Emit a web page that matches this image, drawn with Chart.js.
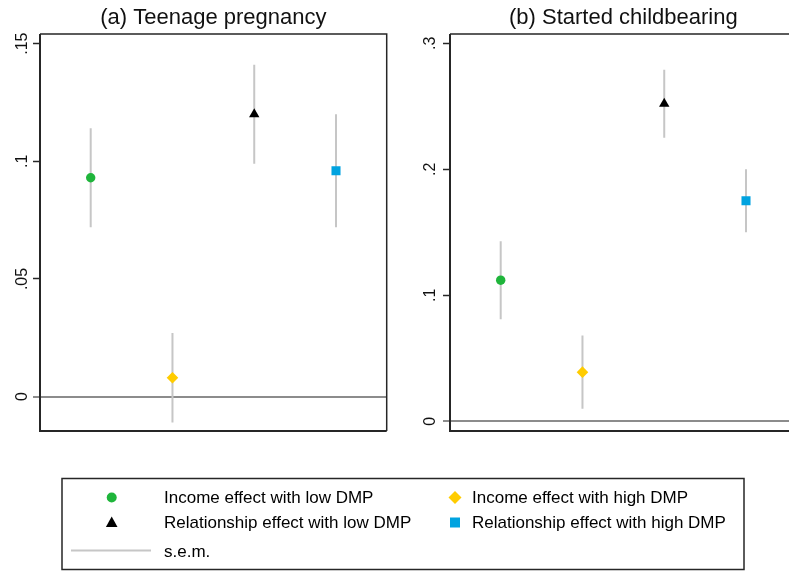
<!DOCTYPE html>
<html>
<head>
<meta charset="utf-8">
<script src="https://cdn.jsdelivr.net/npm/chart.js@4/dist/chart.umd.min.js"></script>
<style>
  html, body { margin: 0; padding: 0; background: #fff; overflow: hidden; width: 789px; height: 572px; }
  #wrap { position: relative; width: 789px; height: 572px; overflow: hidden; }
  canvas { position: absolute; top: 0; }
  #teen { left: 0; }
  #child { left: 400px; }
  #legend { position: absolute; left: 0; top: 0; }
</style>
</head>
<body>
<div id="wrap">
  <canvas id="teen" width="400" height="445"></canvas>
  <canvas id="child" width="410" height="445"></canvas>
  <svg id="legend" width="789" height="572" xmlns="http://www.w3.org/2000/svg"></svg>
</div>
<script>
// Effect categories, in plotting order (x = 1..4)
const categories = [
  'Income effect with low DMP',
  'Income effect with high DMP',
  'Relationship effect with low DMP',
  'Relationship effect with high DMP'
];
const markerStyles = ['circle', 'rectRot', 'triangle', 'rect'];
const markerColors = ['#1fb53b', '#ffcc00', '#000000', '#00a3e0'];
const markerRadius = [4.7, 5.8, 6, 6.4];

// (a) Teenage pregnancy: point estimates and standard errors
const teenEstimate = [0.093, 0.008, 0.120, 0.096];
const teenSem      = [0.021, 0.019, 0.021, 0.024];
const teenTicks      = [0, 0.05, 0.10, 0.15];
const teenTickLabels = ['0', '.05', '.1', '.15'];

// (b) Started childbearing: point estimates and standard errors
const childEstimate = [0.112, 0.039, 0.252, 0.175];
const childSem      = [0.031, 0.029, 0.027, 0.025];
const childTicks      = [0, 0.1, 0.2, 0.3];
const childTickLabels = ['0', '.1', '.2', '.3'];

const semLabel = 's.e.m.';
const FONT = "'Liberation Sans', Arial, Helvetica, sans-serif";
const SEM_COLOR = '#c6c6c6';
const FRAME_COLOR = '#262626';

// Box around the plot region
const framePlugin = {
  id: 'frame',
  afterDraw(chart) {
    const { ctx, chartArea: a } = chart;
    ctx.save();
    ctx.strokeStyle = FRAME_COLOR;
    ctx.lineWidth = 1.5;
    ctx.beginPath();
    ctx.moveTo(a.left, a.top); ctx.lineTo(a.right, a.top); ctx.lineTo(a.right, a.bottom);
    ctx.stroke();
    ctx.lineWidth = 2;
    ctx.beginPath();
    ctx.moveTo(a.left, a.top); ctx.lineTo(a.left, a.bottom); ctx.lineTo(a.right, a.bottom);
    ctx.stroke();
    ctx.restore();
  }
};

function buildPanel(canvasId, title, est, sem, ticks, tickLabels, yMin, yMax, yWidth, labelPad) {
  const semSets = est.map((v, i) => ({
    type: 'scatter',
    showLine: true,
    data: [{ x: i + 1, y: v - sem[i] }, { x: i + 1, y: v + sem[i] }],
    borderColor: SEM_COLOR,
    borderWidth: 2,
    pointRadius: 0,
    order: 2
  }));
  const pointSet = {
    type: 'scatter',
    data: est.map((v, i) => ({ x: i + 1, y: v })),
    pointStyle: markerStyles,
    pointRadius: markerRadius,
    backgroundColor: markerColors,
    borderColor: markerColors,
    borderWidth: 0,
    order: 1
  };
  return new Chart(document.getElementById(canvasId), {
    type: 'scatter',
    data: { datasets: [pointSet, ...semSets] },
    options: {
      responsive: false,
      animation: false,
      devicePixelRatio: 1,
      layout: { padding: { left: 0, right: 13.3, top: 0, bottom: 14 } },
      plugins: {
        legend: { display: false },
        tooltip: { enabled: false },
        title: {
          display: true,
          text: title,
          fullSize: false,
          color: '#111',
          font: { family: FONT, size: 22, weight: 'normal', lineHeight: 1.2 },
          padding: { top: 4.3, bottom: 3.3 }
        }
      },
      scales: {
        x: { type: 'linear', min: 0.38, max: 4.62, display: false },
        y: {
          type: 'linear',
          min: yMin,
          max: yMax,
          bounds: 'data',
          afterBuildTicks: s => { s.ticks = ticks.map(v => ({ value: v })); },
          afterFit: s => { s.width = yWidth; s.paddingTop = 0; s.paddingBottom = 0; },
          border: { display: false },
          grid: {
            drawOnChartArea: true,
            drawTicks: true,
            tickLength: 7,
            color: c => (c.tick && c.tick.value === 0) ? '#8c8c8c' : 'rgba(0,0,0,0)',
            lineWidth: c => (c.tick && c.tick.value === 0) ? 2 : 1,
            tickColor: c => (c.tick && c.tick.value === 0) ? '#8c8c8c' : FRAME_COLOR,
            tickWidth: c => (c.tick && c.tick.value === 0) ? 2 : 1.5
          },
          ticks: {
            minRotation: 90,
            maxRotation: 90,
            crossAlign: 'center',
            padding: labelPad,
            color: '#111',
            font: { family: FONT, size: 16 },
            callback: v => tickLabels[ticks.indexOf(v)]
          }
        }
      }
    },
    plugins: [framePlugin]
  });
}

buildPanel('teen', '(a) Teenage pregnancy', teenEstimate, teenSem, teenTicks, teenTickLabels,
           -0.0146, 0.1541, 40, -0.4);
buildPanel('child', '(b) Started childbearing', childEstimate, childSem, childTicks, childTickLabels,
           -0.0077, 0.3074, 50, 5.8);

// Legend below the two panels
(function drawLegend() {
  const NS = 'http://www.w3.org/2000/svg';
  const svg = document.getElementById('legend');
  const el = (tag, attrs, text) => {
    const e = document.createElementNS(NS, tag);
    for (const k in attrs) e.setAttribute(k, attrs[k]);
    if (text !== undefined) e.textContent = text;
    svg.appendChild(e);
    return e;
  };
  el('rect', { x: 62, y: 478.5, width: 682, height: 91, fill: 'none', stroke: FRAME_COLOR, 'stroke-width': 1.5 });

  const cols = [{ mx: 111.7, tx: 164 }, { mx: 455, tx: 472 }];
  const rows = [{ my: 497.5, ty: 503.3 }, { my: 522.5, ty: 528.3 }];
  const slots = [[0, 0], [1, 0], [0, 1], [1, 1]]; // [col, row] per category

  function marker(style, color, x, y) {
    if (style === 'circle') {
      el('circle', { cx: x, cy: y, r: 5, fill: color });
    } else if (style === 'rectRot') {
      const r = 6.5;
      el('polygon', { points: `${x},${y - r} ${x + r},${y} ${x},${y + r} ${x - r},${y}`, fill: color });
    } else if (style === 'triangle') {
      el('polygon', { points: `${x},${y - 6} ${x + 5.8},${y + 4.5} ${x - 5.8},${y + 4.5}`, fill: color });
    } else {
      el('rect', { x: x - 5, y: y - 5, width: 10, height: 10, fill: color });
    }
  }

  categories.forEach((name, i) => {
    const [c, r] = slots[i];
    marker(markerStyles[i], markerColors[i], cols[c].mx, rows[r].my);
    el('text', { x: cols[c].tx, y: rows[r].ty, 'font-family': FONT, 'font-size': 17, fill: '#000' }, name);
  });

  el('line', { x1: 71, y1: 550.5, x2: 151, y2: 550.5, stroke: SEM_COLOR, 'stroke-width': 2 });
  el('text', { x: 164, y: 557, 'font-family': FONT, 'font-size': 17, fill: '#000' }, semLabel);
})();
</script>
</body>
</html>
